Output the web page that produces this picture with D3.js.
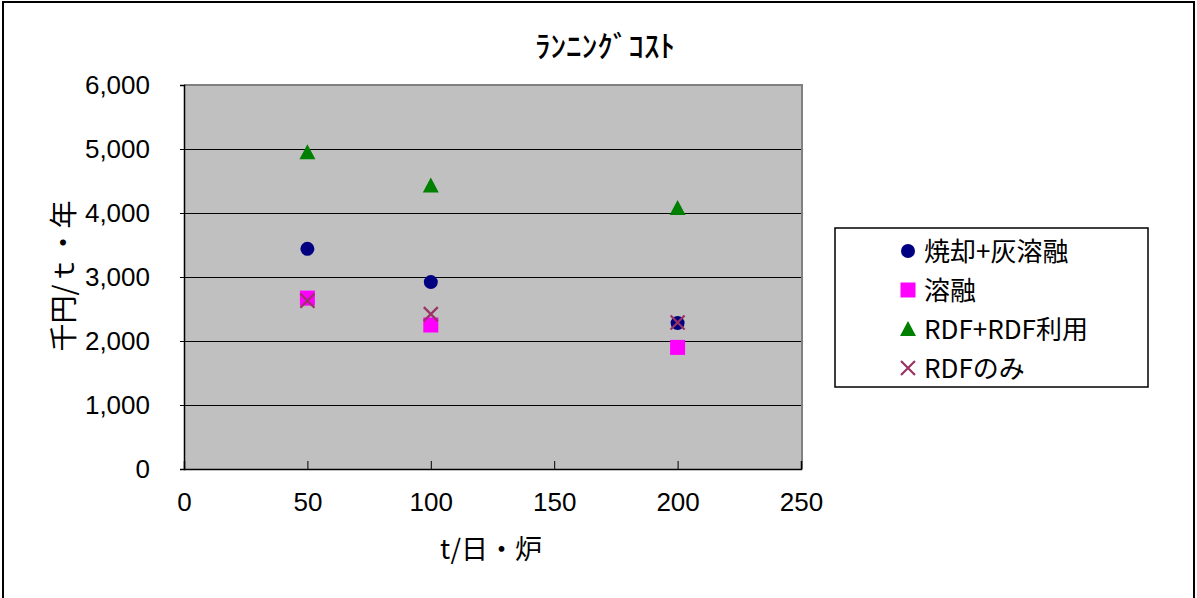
<!DOCTYPE html>
<html>
<head>
<meta charset="utf-8">
<script src="https://cdn.jsdelivr.net/npm/d3@7"></script>
<style>
  body { margin: 0; background: #fff; }
  text { font-family: "Liberation Sans", Arial, sans-serif; }
  .jp { font-family: "Noto Sans CJK JP", "Liberation Sans", sans-serif; }
</style>
</head>
<body>
<div id="chart"></div>
<script>
// data
const xValues = [50, 100, 200];
const incinMelt = [3440, 2920, 2280];   // 焼却+灰溶融
const melt = [2670, 2250, 1900];        // 溶融
const rdfUse = [4950, 4430, 4080];      // RDF+RDF利用
const rdfOnly = [2630, 2420, 2290];     // RDFのみ
const xTicks = [0, 50, 100, 150, 200, 250];
const yTicks = [0, 1000, 2000, 3000, 4000, 5000, 6000];

const series = [
    { name: '焼却+灰溶融', values: incinMelt, shape: 'circle', color: '#000080' },
    { name: '溶融', values: melt, shape: 'square', color: '#FF00FF' },
    { name: 'RDF+RDF利用', values: rdfUse, shape: 'triangle', color: '#008000' },
    { name: 'RDFのみ', values: rdfOnly, shape: 'cross', color: '#993366' }
];

const svgWidth = 1197;
const svgHeight = 598;
const plot = { left: 184, top: 85, right: 801, bottom: 469 };

const svg = d3.select('#chart')
    .append('svg')
    .attr('width', svgWidth)
    .attr('height', svgHeight);

// outer frame
svg.append('rect')
    .attr('x', 3).attr('y', 2)
    .attr('width', 1191).attr('height', 620)
    .attr('fill', 'none')
    .attr('stroke', '#000')
    .attr('stroke-width', 2);

const xScale = d3.scaleLinear().domain([0, 250]).range([plot.left, plot.right]);
const yScale = d3.scaleLinear().domain([0, 6000]).range([plot.bottom, plot.top]);

// plot background
svg.append('rect')
    .attr('x', plot.left).attr('y', plot.top)
    .attr('width', plot.right - plot.left)
    .attr('height', plot.bottom - plot.top)
    .attr('fill', '#C0C0C0');

// grid lines
svg.append('g')
    .selectAll('line')
    .data(yTicks.slice(1, -1))
    .enter()
    .append('line')
    .attr('x1', plot.left).attr('x2', plot.right)
    .attr('y1', d => Math.round(yScale(d)) + 0.5).attr('y2', d => Math.round(yScale(d)) + 0.5)
    .attr('stroke', '#000')
    .attr('stroke-width', 1);

// top and right border of the plot
svg.append('path')
    .attr('d', `M${plot.left},${plot.top}H${plot.right + 1}V${plot.bottom}`)
    .attr('fill', 'none')
    .attr('stroke', '#808080')
    .attr('stroke-width', 2);

// y axis
const yAxis = svg.append('g')
    .attr('transform', `translate(${plot.left},0)`)
    .call(d3.axisLeft(yScale).tickValues(yTicks).tickSize(4).tickPadding(30)
        .tickFormat(d3.format(',')));
yAxis.select('.domain').attr('stroke', '#000').attr('stroke-width', 1.5);
yAxis.selectAll('.tick line').attr('stroke', '#000');
yAxis.selectAll('.tick text')
    .attr('font-size', 26)
    .attr('fill', '#000')
    .attr('font-family', '"Liberation Sans Narrow", "Liberation Sans", Arial, sans-serif')
    .attr('transform', 'scale(1,1)');

// x axis, ticks point inward
const xAxis = svg.append('g')
    .attr('transform', `translate(0,${plot.bottom})`)
    .call(d3.axisBottom(xScale).tickValues(xTicks).tickSize(-8).tickPadding(24));
xAxis.select('.domain').attr('stroke', '#000').attr('stroke-width', 1.5);
xAxis.selectAll('.tick line').attr('stroke', '#000');
xAxis.selectAll('.tick text')
    .attr('font-size', 26)
    .attr('fill', '#000')
    .attr('font-family', '"Liberation Sans Narrow", "Liberation Sans", Arial, sans-serif');

// marker drawing
function drawMarker(g, shape, color) {
    if (shape === 'circle') {
        g.append('circle').attr('r', 7).attr('fill', color);
    } else if (shape === 'square') {
        g.append('rect').attr('x', -7.5).attr('y', -7.5)
            .attr('width', 15).attr('height', 15).attr('fill', color);
    } else if (shape === 'triangle') {
        g.append('path').attr('d', 'M0,-8L8,7H-8Z').attr('fill', color);
    } else {
        g.append('path').attr('d', 'M-7,-7L7,7M-7,7L7,-7')
            .attr('stroke', color).attr('stroke-width', 2.2).attr('fill', 'none');
    }
}

series.forEach(s => {
    svg.append('g')
        .selectAll('g')
        .data(s.values)
        .enter()
        .append('g')
        .attr('transform', (d, i) => `translate(${xScale(xValues[i])},${yScale(d)})`)
        .each(function () { drawMarker(d3.select(this), s.shape, s.color); });
});

// title
svg.append('text')
    .attr('class', 'jp')
    .attr('x', 535).attr('y', 57)
    .attr('textLength', 140)
    .attr('lengthAdjust', 'spacingAndGlyphs')
    .attr('font-size', 30)
    .attr('font-weight', 500)
    .text('ﾗﾝﾆﾝｸﾞｺｽﾄ');

// axis titles
svg.append('text')
    .attr('class', 'jp')
    .attr('x', 491).attr('y', 559)
    .attr('text-anchor', 'middle')
    .attr('font-size', 27)
    .text('t/日・炉');

svg.append('text')
    .attr('class', 'jp')
    .attr('transform', 'translate(74,276) rotate(-90)')
    .attr('text-anchor', 'middle')
    .attr('font-size', 28)
    .text('千円/ｔ・年');

// legend
const legend = svg.append('g');
legend.append('rect')
    .attr('x', 835).attr('y', 228)
    .attr('width', 313).attr('height', 159)
    .attr('fill', '#fff')
    .attr('stroke', '#000')
    .attr('stroke-width', 1.5);

series.forEach((s, i) => {
    const y = 251 + i * 39;
    const g = legend.append('g').attr('transform', `translate(908,${y})`);
    drawMarker(g, s.shape, s.color);
    legend.append('text')
        .attr('class', 'jp')
        .attr('x', 924).attr('y', y + 10)
        .attr('font-size', 26)
        .text(s.name);
});
</script>
</body>
</html>
